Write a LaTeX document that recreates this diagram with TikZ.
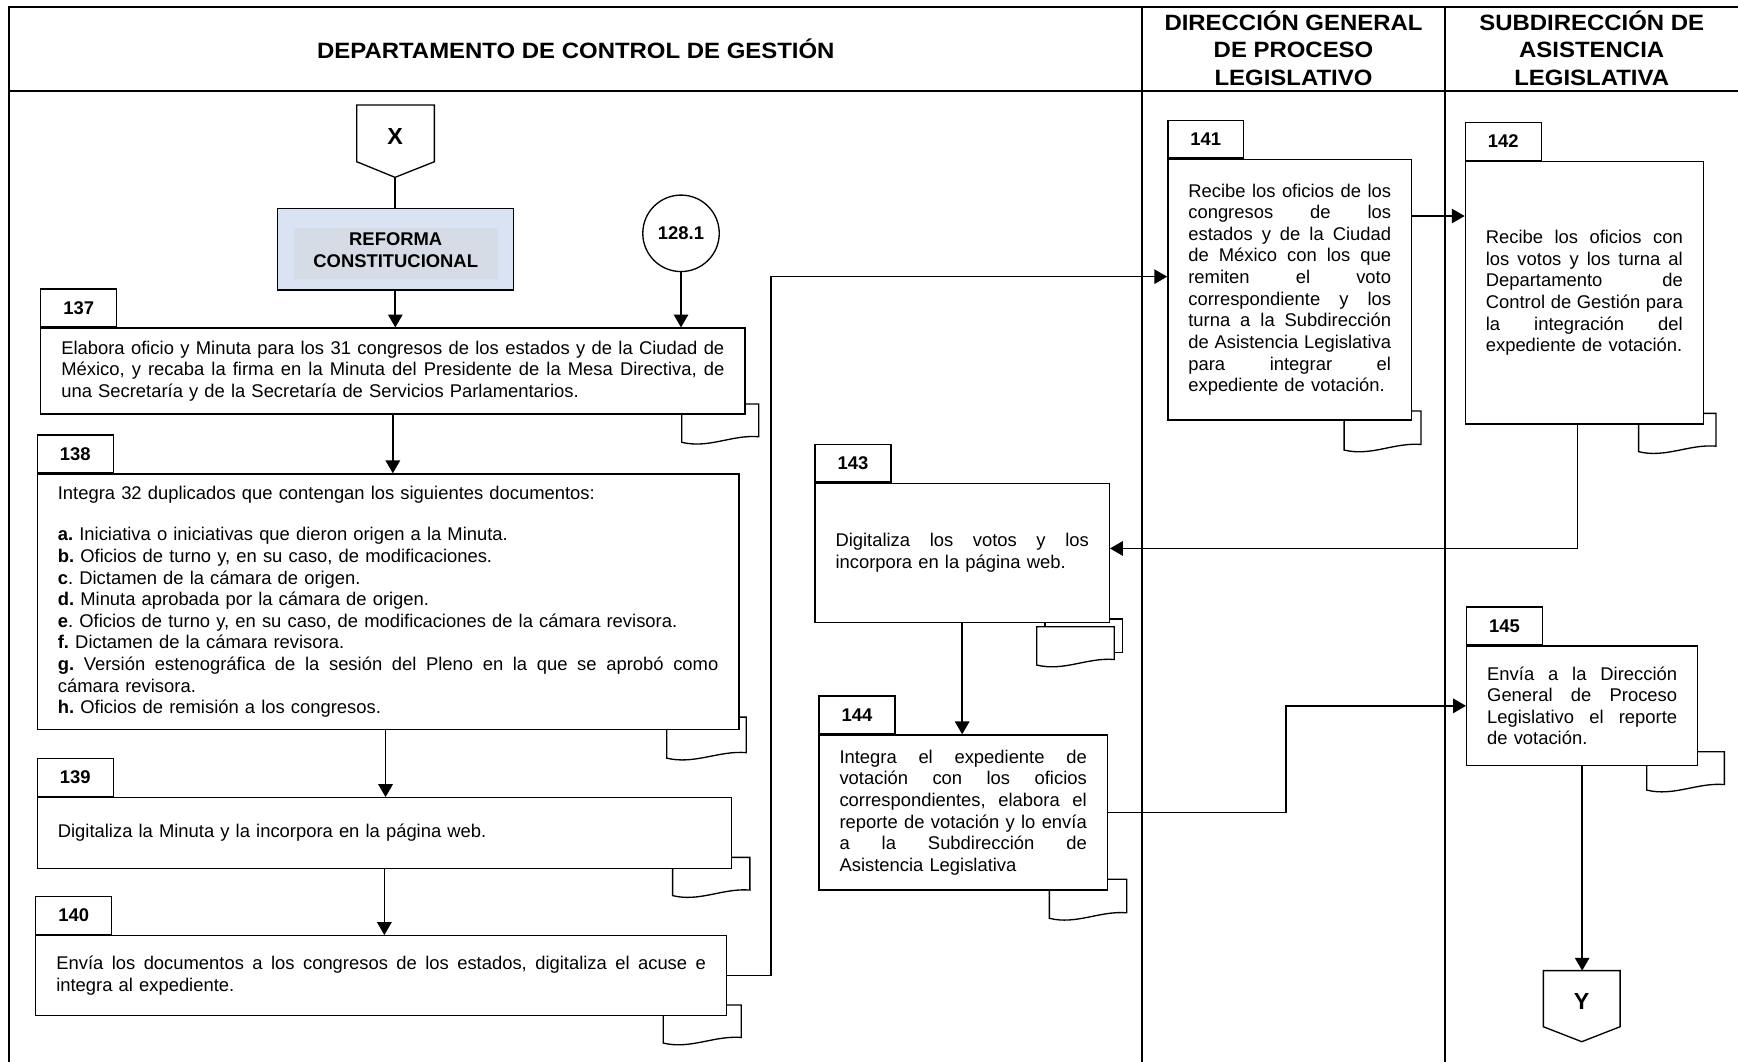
\documentclass[tikz,border=0pt]{standalone}
\usepackage{fontspec}
\setmainfont{Liberation Sans}
\newfontfamily\headfont{Liberation Sans}[FakeStretch=1.08]
\usetikzlibrary{arrows.meta}
\definecolor{refouter}{RGB}{218,227,243}
\definecolor{refinner}{RGB}{214,220,229}
% width of the text column of the current box
\newlength{\jw}
% one justified line, stretched to the full text width
% (the interword glue is reset so that it can stretch inside a ragged node)
\newcommand{\jl}[1]{\makebox[\jw][s]{\spaceskip=0.278em plus 8em\xspaceskip=0pt\relax #1}}
\newcommand{\bodyfont}{\fontsize{8.3}{9.75}\selectfont}
% document symbol with a wavy lower edge: x0, top, x1, lower-left y
\newcommand{\docsheet}[4]{%
  \draw[docline] (#1,#4) -- (#1,#2) -- (#3,#2) -- (#3,{#4-5})
    .. controls ({#3-0.35*(#3-#1)},{#4-7}) and ({#1+0.35*(#3-#1)},{#4+6}) .. (#1,#4) -- cycle;}
\begin{document}
\frenchspacing
\begin{tikzpicture}[x=0.5pt,y=-0.5pt,
  frame/.style={line width=0.85pt},
  lane/.style={line width=0.6pt},
  docline/.style={draw, line width=0.6pt, fill=white},
  stepbox/.style={draw, line width=0.6pt, fill=white, inner xsep=9.25pt, inner ysep=0pt,
    align=left, font=\bodyfont},
  tw/.style={text width=#1, execute at begin node={\setlength{\jw}{#1}}},
  numtab/.style={draw, line width=0.6pt, fill=white, minimum width=34.2pt, minimum height=17pt,
    inner sep=0pt, anchor=south west, font=\bodyfont\bfseries},
  flow/.style={line width=0.75pt, -{Triangle[length=5.8pt,width=6.5pt]}},
  link/.style={line width=0.75pt},
  headtxt/.style={font=\headfont\fontsize{10}{12.5}\selectfont\bfseries, align=center, inner sep=0pt},
  connlbl/.style={font=\fontsize{10.5}{12}\selectfont\bfseries, inner sep=0pt}
]
\useasboundingbox (0,0) rectangle (1568,958);

% ---- swimlane frame ----
\draw[frame] (1568,6) -- (8.1,6) -- (8.1,958);
\draw[frame] (8.1,81.7) -- (1568,81.7);
\draw[lane] (1030.2,6) -- (1030.2,958);
\draw[lane] (1303.7,6) -- (1303.7,958);

\node[headtxt] (hdcg) at (519.5,44) {DEPARTAMENTO DE CONTROL DE GESTIÓN};
\node[headtxt] (hdgpl) at (1167,43.5) {DIRECCIÓN GENERAL\\DE PROCESO\\LEGISLATIVO};
\node[headtxt] (hsal) at (1436,43.5) {SUBDIRECCIÓN DE\\ASISTENCIA\\LEGISLATIVA};

% ---- off-page connector X and start block ----
\draw[docline] (321.8,94.7) -- (391.9,94.7) -- (391.9,145.9) -- (356.4,160) -- (321.8,145.9) -- cycle;
\node[connlbl] (xlbl) at (356.4,123) {X};
\coordinate (xtip) at (356.4,160);

\node[draw, line width=0.6pt, fill=refouter, minimum width=106.45pt, minimum height=36.8pt,
  inner sep=0pt] (reforma) at (356.65,224.8) {};
\fill[refinner] (265.3,206) rectangle (449,252);
\node[font=\fontsize{8.3}{9.6}\selectfont\bfseries, align=center, inner sep=0pt] (reftxt)
  at (357,225.6) {REFORMA\\CONSTITUCIONAL};

\node[draw, circle, line width=0.6pt, minimum size=34.5pt, inner sep=0pt,
  font=\bodyfont\bfseries] (c1281) at (614.4,210.5) {\raisebox{-1.5pt}{128.1}};

% ---- document symbols behind the activity boxes ----
\docsheet{615}{364.5}{684.5}{399}
\docsheet{601.5}{647}{673.3}{684}
\docsheet{606.8}{773.5}{676.5}{808}
\docsheet{598.3}{906.7}{668.8}{941}
\docsheet{1212.6}{370.8}{1282}{406}
\docsheet{1478.3}{372.9}{1548.1}{407.5}
\draw[docline] (942.8,558.5) rectangle (1012.6,588.5);
\docsheet{935.3}{565.4}{1005.3}{600}
\docsheet{946.7}{793.3}{1016.5}{828.5}
\docsheet{1485.6}{678.2}{1555.7}{712.8}

% ---- activity boxes ----
\node[stepbox, minimum width=317.6pt, minimum height=38.75pt, tw=299.1pt] (n137) at (354.4,334.75)
{\jl{Elabora oficio y Minuta para los 31 congresos de los estados y de la Ciudad de}\\
 \jl{México, y recaba la firma en la Minuta del Presidente de la Mesa Directiva, de}\\
 una Secretaría y de la Secretaría de Servicios Parlamentarios.};

\node[stepbox, minimum width=316.45pt, minimum height=115.2pt, tw=297.95pt] (n138) at (350.15,542.8)
{Integra 32 duplicados que contengan los siguientes documentos:\\[9.1pt]
 \textbf{a.} Iniciativa o iniciativas que dieron origen a la Minuta.\\
 \textbf{b.} Oficios de turno y, en su caso, de modificaciones.\\
 \textbf{c}. Dictamen de la cámara de origen.\\
 \textbf{d.} Minuta aprobada por la cámara de origen.\\
 \textbf{e}. Oficios de turno y, en su caso, de modificaciones de la cámara revisora.\\
 \textbf{f.} Dictamen de la cámara revisora.\\
 \jl{\textbf{g.} Versión estenográfica de la sesión del Pleno en la que se aprobó como}\\
 cámara revisora.\\
 \textbf{h.} Oficios de remisión a los congresos.};

\node[stepbox, minimum width=313.05pt, minimum height=31.85pt, tw=294.55pt] (n139) at (346.75,751.55)
{Digitaliza la Minuta y la incorpora en la página web.};

\node[stepbox, minimum width=311.55pt, minimum height=35.9pt, tw=293.05pt] (n140) at (343.85,880.1)
{\jl{Envía los documentos a los congresos de los estados, digitaliza el acuse e}\\
 integra al expediente.};

\node[stepbox, minimum width=109.95pt, minimum height=117.6pt, tw=91.45pt] (n141) at (1163.55,261.3)
{\jl{Recibe los oficios de los}\\
 \jl{congresos de los}\\
 \jl{estados y de la Ciudad}\\
 \jl{de México con los que}\\
 \jl{remiten el voto}\\
 \jl{correspondiente y los}\\
 \jl{turna a la Subdirección}\\
 \jl{de Asistencia Legislativa}\\
 \jl{para integrar el}\\
 expediente de votación.};

\node[stepbox, minimum width=107.35pt, minimum height=118.3pt, tw=88.85pt] (n142) at (1429.35,264.2)
{\jl{Recibe los oficios con}\\
 \jl{los votos y los turna al}\\
 \jl{Departamento de}\\
 \jl{Control de Gestión para}\\
 \jl{la integración del}\\
 expediente de votación.};

\node[stepbox, minimum width=132.75pt, minimum height=62.7pt, tw=114.25pt] (n143) at (868.05,498.8)
{\jl{Digitaliza los votos y los}\\
 incorpora en la página web.};

\node[stepbox, minimum width=130.05pt, minimum height=69.95pt, tw=111.55pt] (n144) at (868.95,733.05)
{\jl{Integra el expediente de}\\
 \jl{votación con los oficios}\\
 \jl{correspondientes, elabora el}\\
 \jl{reporte de votación y lo envía}\\
 \jl{a la Subdirección de}\\
 Asistencia Legislativa};

\node[stepbox, minimum width=104.2pt, minimum height=54pt, tw=85.7pt] (n145) at (1427.4,636.8)
{\jl{Envía a la Dirección}\\
 \jl{General de Proceso}\\
 \jl{Legislativo el reporte}\\
 de votación.};

% ---- step number tabs ----
\node[numtab] (t137) at (n137.north west) {137};
\node[numtab] (t138) at (n138.north west) {138};
\node[numtab] (t139) at (n139.north west) {139};
\node[numtab] (t140) at (n140.north west) {140};
\node[numtab] (t141) at (n141.north west) {141};
\node[numtab] (t142) at (n142.north west) {142};
\node[numtab] (t143) at (n143.north west) {143};
\node[numtab] (t144) at (n144.north west) {144};
\node[numtab] (t145) at (n145.north west) {145};

% ---- off-page connector Y ----
\draw[docline] (1392.4,875.7) -- (1461.6,875.7) -- (1461.6,926.3) -- (1427,939.8) -- (1392.4,926.3) -- cycle;
\node[connlbl] (ylbl) at (1427,903.7) {Y};
\coordinate (ytop) at (1427,875.7);

% ---- flow connectors ----
\draw[link] (xtip) -- (xtip |- reforma.north);
\draw[flow] (reforma.south) -- (reforma.south |- n137.north);
\draw[flow] (c1281.south) -- (c1281.south |- n137.north);
\draw[flow] (n137.south) -- (n137.south |- n138.north);
\coordinate (o138) at ([xshift=-1.15pt]n138.south);
\draw[flow] (o138) -- (o138 |- n139.north);
\draw[flow] (n139.south) -- (n139.south |- n140.north);

\coordinate (i141) at ([yshift=5.85pt]n141.west);
\coordinate (j140) at (695.6,0);
\draw[flow] (n140.east) -| (j140 |- i141) -- (i141);

\coordinate (o141) at ([yshift=33.2pt]n141.east);
\draw[flow] (o141) -- (o141 -| n142.west);

\coordinate (o142) at ([xshift=-3.1pt]n142.south);
\coordinate (i143) at ([yshift=2pt]n143.east);
\draw[flow] (o142) |- (i143);

\draw[flow] (n143.south) -- (n143.south |- n144.north);

\coordinate (j144) at (1160,0);
\draw[flow] (n144.east) -| (j144 |- n145.west) -- (n145.west);

\draw[flow] (n145.south) -- (n145.south |- ytop);
\end{tikzpicture}
\end{document}
